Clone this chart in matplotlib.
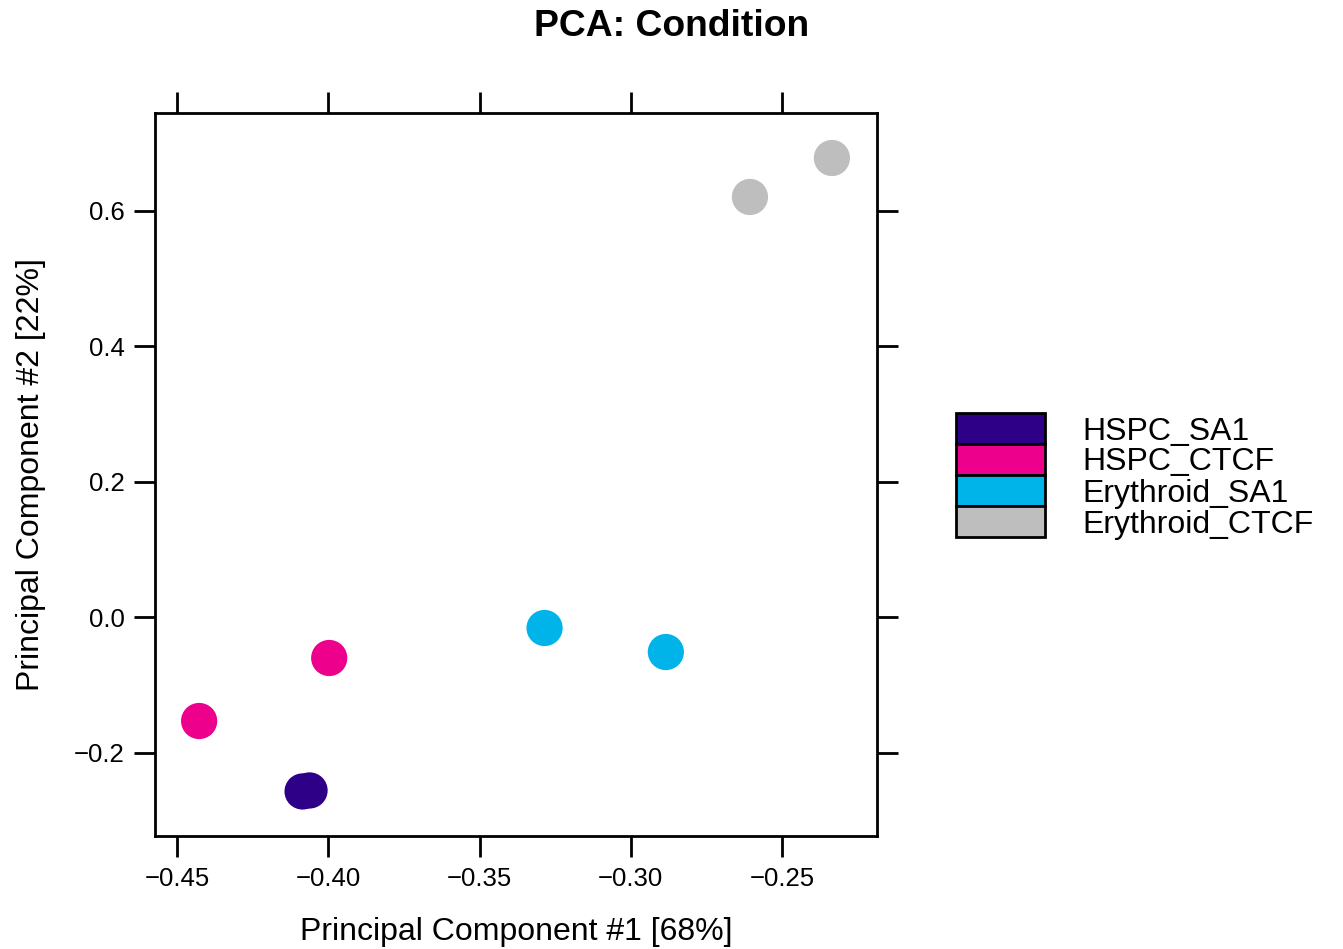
import matplotlib.pyplot as plt
from matplotlib.patches import Rectangle

plt.rcParams['font.family'] = ['Liberation Sans', 'DejaVu Sans']

# PCA-Koordinaten pro Probe
groups = ["HSPC_SA1", "HSPC_CTCF", "Erythroid_SA1", "Erythroid_CTCF"]
colors = ["#2E0088", "#EC008C", "#00B4EA", "#BEBEBE"]
pc1 = {"HSPC_SA1": [-0.4085, -0.4062],
       "HSPC_CTCF": [-0.4427, -0.3997],
       "Erythroid_SA1": [-0.3285, -0.2884],
       "Erythroid_CTCF": [-0.2606, -0.2335]}
pc2 = {"HSPC_SA1": [-0.2575, -0.2560],
       "HSPC_CTCF": [-0.1535, -0.0605],
       "Erythroid_SA1": [-0.0162, -0.0517],
       "Erythroid_CTCF": [0.6200, 0.6775]}
xticks = [-0.45, -0.40, -0.35, -0.30, -0.25]
yticks = [-0.2, 0.0, 0.2, 0.4, 0.6]

fig = plt.figure(figsize=(13.43, 9.49), dpi=100)
ax = fig.add_axes([0.1154, 0.1191, 0.5376, 0.7618])

for g, c in zip(groups, colors):
    ax.scatter(pc1[g], pc2[g], s=680, color=c, edgecolors="none", zorder=3)

ax.set_xlim(-0.4573, -0.2186)
ax.set_ylim(-0.3232, 0.7439)
ax.set_xticks(xticks)
ax.set_xticklabels([f"\u2212{abs(v):.2f}" for v in xticks])
ax.set_yticks(yticks)
ax.set_yticklabels([("\u2212" if v < 0 else "") + f"{abs(v):.1f}" for v in yticks])
ax.tick_params(direction="out", length=15, width=2, labelsize=18.5,
               top=True, right=True, pad=7)
for sp in ax.spines.values():
    sp.set_linewidth(2)

ax.set_xlabel("Principal Component #1 [68%]", fontsize=23, labelpad=19)
ax.set_ylabel("Principal Component #2 [22%]", fontsize=23, labelpad=20)
fig.suptitle("PCA: Condition", fontsize=26.8, fontweight="bold", y=0.99)

# Legende wie bei lattice: gestapelte Kaestchen
bx, bw, bh = 956 / 1343, 89 / 1343, 31 / 949
top = 1 - 413 / 949
for i, (g, c) in enumerate(zip(groups, colors)):
    y0 = top - (i + 1) * bh
    fig.add_artist(Rectangle((bx, y0), bw, bh, transform=fig.transFigure,
                             facecolor=c, edgecolor="black", linewidth=2))
    fig.text(1082 / 1343, y0 + bh / 2 - 3 / 949, g, fontsize=23,
             va="center", ha="left")

fig.savefig("out.png", dpi=100)
